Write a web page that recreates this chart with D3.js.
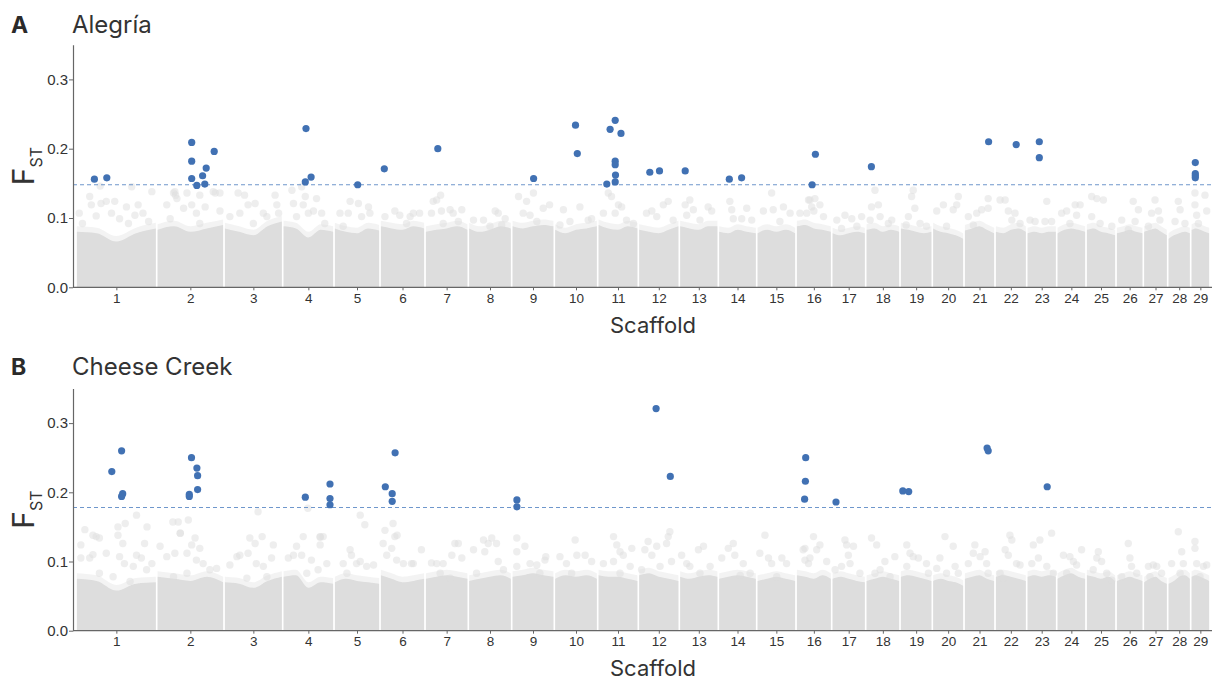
<!DOCTYPE html>
<html>
<head>
<meta charset="utf-8">
<script src="https://cdn.jsdelivr.net/npm/d3@7"></script>
<style>
  html, body { margin: 0; padding: 0; background: #fff; }
  svg { display: block; }
</style>
</head>
<body>
<svg id="chart" width="1215" height="682"></svg>
<script>
// ---- Scaffolds ---------------------------------------------------------
const scaffoldLabels = ["1","2","3","4","5","6","7","8","9","10","11","12","13","14","15",
  "16","17","18","19","20","21","22","23","24","25","26","27","28","29"];
const scaffoldLengthMb = [80.7, 67.3, 58.7, 51.3, 46.0, 45.0, 43.3, 43.4, 42.6, 43.4, 40.6, 41.0,
  39.0, 38.4, 39.3, 35.7, 34.0, 34.3, 32.3, 31.7, 31.0, 31.7, 30.0, 29.3, 30.0, 27.3, 24.4, 23.0, 19.3];
const yTickValues = [0.0, 0.1, 0.2, 0.3];

// ---- Significance thresholds (99.9th percentile FST) -------------------
const alegriaThreshold = 0.148;
const cheeseThreshold = 0.178;

// ---- Outlier SNPs: [scaffold, position (Mb), FST] -----------------------
const alegriaOutliers = [
  [1,18.4,0.156],[1,30.8,0.158],
  [2,35.0,0.209],[2,35.0,0.182],[2,35.0,0.157],[2,40.1,0.147],[2,45.9,0.161],[2,48.1,0.149],[2,49.5,0.172],[2,57.5,0.196],
  [4,23.3,0.229],[4,22.6,0.152],[4,28.4,0.159],
  [5,23.7,0.148],
  [6,4.3,0.171],
  [7,12.8,0.200],
  [9,21.9,0.157],
  [10,21.2,0.234],[10,23.0,0.193],
  [11,12.4,0.228],[11,17.5,0.241],[11,23.3,0.222],[11,17.5,0.182],[11,17.5,0.177],[11,17.8,0.162],[11,9.1,0.149],[11,17.5,0.152],
  [12,11.5,0.166],[12,21.2,0.168],
  [13,5.9,0.168],
  [14,11.0,0.156],[14,23.3,0.158],
  [16,16.1,0.148],[16,19.4,0.192],
  [18,5.7,0.174],
  [21,24.6,0.210],
  [22,21.2,0.206],
  [23,12.6,0.210],[23,12.6,0.187],
  [29,4.6,0.180],[29,4.6,0.164],[29,4.6,0.161],[29,4.6,0.158]
];
const cheeseOutliers = [
  [1,35.8,0.230],[1,45.6,0.260],[1,46.7,0.198],[1,45.6,0.194],
  [2,32.6,0.197],[2,32.6,0.194],[2,34.8,0.250],[2,40.2,0.235],[2,40.9,0.224],[2,40.9,0.204],
  [4,22.6,0.193],[4,47.3,0.212],[4,47.3,0.191],[4,47.3,0.182],
  [6,5.3,0.208],[6,12.2,0.198],[6,12.2,0.187],[6,15.1,0.257],
  [9,5.2,0.189],[9,5.2,0.179],
  [12,17.8,0.321],[12,32.0,0.223],
  [16,9.7,0.250],[16,9.4,0.216],[16,8.6,0.190],
  [17,4.3,0.186],
  [19,2.8,0.202],[19,8.7,0.201],
  [21,23.1,0.264],[21,24.2,0.260],
  [23,20.5,0.208]
];

// ---- Bulk of SNPs: upper edge of the dense cloud per scaffold ----------
// FST at 0, 1/4, 1/2, 3/4 and the end of each scaffold
const alegriaBulkTop = [
  [0.080,0.078,0.066,0.078,0.085],[0.083,0.088,0.080,0.085,0.090],[0.085,0.080,0.075,0.088,0.095],
  [0.088,0.085,0.072,0.083,0.080],[0.085,0.080,0.078,0.085,0.082],[0.088,0.085,0.083,0.088,0.085],
  [0.080,0.083,0.085,0.088,0.083],[0.085,0.080,0.083,0.088,0.085],[0.088,0.085,0.088,0.090,0.088],
  [0.083,0.078,0.083,0.085,0.088],[0.090,0.085,0.083,0.088,0.085],[0.083,0.080,0.078,0.083,0.088],
  [0.088,0.085,0.083,0.088,0.088],[0.080,0.078,0.083,0.080,0.078],[0.078,0.083,0.080,0.083,0.078],
  [0.088,0.090,0.085,0.083,0.080],[0.078,0.075,0.078,0.080,0.078],[0.083,0.085,0.080,0.083,0.080],
  [0.085,0.083,0.080,0.078,0.080],[0.085,0.080,0.078,0.075,0.070],[0.082,0.085,0.088,0.083,0.078],
  [0.080,0.078,0.083,0.085,0.080],[0.078,0.080,0.078,0.080,0.080],[0.078,0.083,0.085,0.083,0.080],
  [0.083,0.085,0.080,0.078,0.075],[0.078,0.080,0.083,0.080,0.078],[0.080,0.083,0.085,0.080,0.075],
  [0.070,0.075,0.078,0.080,0.078],[0.083,0.085,0.083,0.080,0.078]
];
const cheeseBulkTop = [
  [0.075,0.072,0.058,0.068,0.070],[0.078,0.075,0.072,0.078,0.070],[0.070,0.068,0.062,0.072,0.078],
  [0.078,0.080,0.062,0.070,0.068],[0.070,0.075,0.072,0.070,0.068],[0.080,0.075,0.070,0.072,0.075],
  [0.075,0.078,0.080,0.078,0.075],[0.072,0.075,0.078,0.080,0.075],[0.078,0.080,0.083,0.080,0.078],
  [0.075,0.080,0.078,0.080,0.075],[0.080,0.078,0.078,0.075,0.072],[0.080,0.083,0.078,0.075,0.072],
  [0.078,0.075,0.078,0.080,0.078],[0.075,0.078,0.080,0.078,0.075],[0.072,0.075,0.078,0.075,0.072],
  [0.080,0.078,0.075,0.080,0.075],[0.075,0.078,0.075,0.072,0.070],[0.072,0.075,0.078,0.075,0.072],
  [0.078,0.080,0.078,0.075,0.072],[0.072,0.075,0.072,0.070,0.065],[0.075,0.078,0.080,0.075,0.072],
  [0.078,0.080,0.078,0.075,0.072],[0.078,0.080,0.078,0.080,0.078],[0.075,0.080,0.083,0.078,0.075],
  [0.080,0.078,0.075,0.078,0.072],[0.072,0.075,0.078,0.075,0.072],[0.070,0.075,0.078,0.072,0.068],
  [0.068,0.072,0.078,0.080,0.075],[0.078,0.080,0.078,0.075,0.072]
];

// ---- Sparse SNPs above the dense cloud: [scaffold, fraction along scaffold, FST]
const alegriaSparse = [
  [1,.04,.107],[1,.17,.131],[1,.19,.119],[1,.25,.103],[1,.31,.121],[1,.375,.124],[1,.48,.124],[1,.44,.107],[1,.54,.099],
  [1,.625,.116],[1,.65,.092],[1,.73,.104],[1,.77,.119],[1,.83,.107],[1,.94,.138],[1,.9,.095],[1,.08,.092],[1,.3,.146],[1,.69,.145],
  [2,.15,.119],[2,.25,.136],[2,.30,.128],[2,.40,.114],[2,.45,.136],[2,.52,.119],[2,.59,.107],[2,.64,.133],[2,.72,.116],
  [2,.84,.138],[2,.94,.110],[2,.2,.099],[2,.64,.092],[2,.27,.138],[2,.28,.133],[2,.87,.136],[2,.94,.136],
  [3,.1,.102],[3,.24,.136],[3,.35,.133],[3,.27,.107],[3,.41,.119],[3,.53,.121],[3,.67,.107],[3,.73,.102],[3,.87,.133],
  [3,.9,.119],[3,.93,.107],[3,.5,.092],
  [4,.18,.140],[4,.21,.121],[4,.37,.145],[4,.4,.119],[4,.44,.131],[4,.5,.107],[4,.6,.110],[4,.66,.128],[4,.76,.107],
  [4,.82,.092],[4,.27,.102],
  [5,.13,.107],[5,.35,.124],[5,.53,.121],[5,.31,.107],[5,.6,.102],[5,.75,.116],[5,.78,.107],[5,.2,.088],
  [6,.11,.102],[6,.33,.110],[6,.44,.104],[6,.67,.102],[6,.74,.107],[6,.88,.107],[6,.59,.092],
  [7,.19,.124],[7,.27,.126],[7,.36,.133],[7,.15,.107],[7,.38,.110],[7,.58,.112],[7,.65,.107],[7,.85,.112],[7,.77,.095],[7,.42,.092],
  [8,.12,.097],[8,.35,.097],[8,.62,.110],[8,.69,.107],[8,.85,.099],[8,.5,.088],[8,.77,.090],
  [9,.16,.131],[9,.35,.124],[9,.51,.136],[9,.27,.107],[9,.43,.104],[9,.74,.114],[9,.89,.119],[9,.59,.095],
  [10,.21,.112],[10,.36,.095],[10,.59,.116],[10,.78,.097],[10,.86,.099],[10,.13,.090],
  [11,.26,.136],[11,.34,.131],[11,.51,.119],[11,.59,.116],[11,.43,.107],[11,.14,.107],[11,.88,.092],[11,.71,.097],
  [12,.2,.107],[12,.33,.110],[12,.61,.119],[12,.73,.124],[12,.45,.102],[12,.85,.097],
  [13,.15,.119],[13,.27,.126],[13,.36,.112],[13,.53,.097],[13,.74,.116],[13,.83,.110],[13,.19,.104],
  [14,.3,.124],[14,.35,.112],[14,.61,.099],[14,.74,.114],[14,.87,.097],[14,.39,.099],
  [15,.17,.110],[15,.38,.136],[15,.42,.112],[15,.68,.116],[15,.85,.107],[15,.59,.095],
  [16,.11,.107],[16,.35,.126],[16,.44,.116],[16,.39,.126],[16,.53,.128],[16,.67,.119],[16,.3,.107],[16,.77,.102],[16,.5,.110],
  [17,.15,.097],[17,.39,.104],[17,.59,.099],[17,.74,.088],[17,.88,.102],[17,.29,.085],
  [18,.17,.116],[18,.37,.119],[18,.27,.140],[18,.42,.102],[18,.66,.092],[18,.76,.097],[18,.13,.097],
  [19,.26,.102],[19,.36,.131],[19,.41,.140],[19,.46,.114],[19,.62,.092],[19,.82,.088],[19,.19,.090],
  [20,.14,.110],[20,.35,.119],[20,.66,.112],[20,.77,.119],[20,.82,.131],[20,.45,.088],
  [21,.14,.102],[21,.41,.107],[21,.57,.112],[21,.78,.128],[21,.78,.114],[21,.3,.090],
  [22,.16,.126],[22,.32,.126],[22,.42,.110],[22,.63,.107],[22,.79,.092],[22,.53,.097],
  [23,.11,.097],[23,.28,.095],[23,.67,.124],[23,.61,.095],[23,.83,.095],
  [24,.17,.107],[24,.34,.110],[24,.63,.119],[24,.8,.119],[24,.68,.104],[24,.45,.092],
  [25,.19,.131],[25,.36,.128],[25,.58,.126],[25,.19,.102],[25,.47,.092],[25,.86,.088],
  [26,.21,.097],[26,.63,.124],[26,.7,.095],[26,.82,.112],[26,.45,.083],
  [27,.21,.088],[27,.34,.107],[27,.48,.126],[27,.62,.110],[27,.68,.097],
  [28,.32,.095],[28,.46,.124],[28,.54,.112],[28,.75,.092],
  [29,.22,.136],[29,.22,.119],[29,.31,.104],[29,.74,.133],[29,.83,.110],[29,.4,.092]
];
const cheeseSparse = [
  [1,.06,.124],[1,.06,.105],[1,.17,.105],[1,.25,.136],[1,.29,.134],[1,.21,.110],[1,.29,.083],[1,.375,.112],[1,.46,.078],
  [1,.52,.138],[1,.58,.126],[1,.54,.107],[1,.6,.097],[1,.71,.093],[1,.75,.109],[1,.81,.105],[1,.85,.126],[1,.875,.088],
  [1,.94,.097],[1,.67,.071],[1,.11,.146],[1,.21,.138],[1,.52,.150],[1,.61,.155],[1,.75,.167],[1,.88,.150],
  [2,.05,.122],[2,.15,.107],[2,.27,.112],[2,.35,.141],[2,.45,.112],[2,.52,.124],[2,.57,.134],[2,.59,.102],[2,.64,.119],
  [2,.69,.097],[2,.79,.088],[2,.89,.090],[2,.45,.083],[2,.25,.078],[2,.24,.157],[2,.32,.157],[2,.47,.160],[2,.35,.141],
  [3,.1,.095],[3,.22,.107],[3,.27,.109],[3,.44,.134],[3,.53,.126],[3,.41,.112],[3,.55,.097],[3,.67,.093],[3,.81,.105],
  [3,.84,.124],[3,.73,.078],[3,.39,.076],[3,.58,.172],[3,.65,.136],
  [4,.11,.105],[4,.21,.109],[4,.27,.122],[4,.4,.136],[4,.37,.109],[4,.56,.102],[4,.73,.136],[4,.73,.124],[4,.79,.136],
  [4,.69,.088],[4,.86,.097],[4,.47,.083],[4,.49,.177],[4,.73,.135],
  [5,.2,.097],[5,.35,.117],[5,.38,.109],[5,.49,.097],[5,.57,.100],[5,.71,.093],[5,.86,.095],[5,.28,.083],[5,.57,.167],[5,.67,.153],
  [6,.07,.126],[6,.15,.109],[6,.26,.119],[6,.33,.136],[6,.37,.102],[6,.52,.097],[6,.74,.097],[6,.7,.097],[6,.92,.117],
  [6,.11,.145],[6,.29,.155],[6,.38,.138],
  [7,.15,.098],[7,.27,.097],[7,.42,.097],[7,.62,.109],[7,.69,.126],[7,.77,.126],[7,.85,.105],[7,.35,.083],[7,.58,.076],
  [8,.12,.117],[8,.35,.131],[8,.46,.126],[8,.54,.134],[8,.65,.126],[8,.38,.114],[8,.69,.100],[8,.19,.083],[8,.81,.088],
  [9,.12,.134],[9,.12,.114],[9,.31,.122],[9,.12,.093],[9,.43,.097],[9,.59,.095],[9,.78,.102],[9,.8,.107],[9,.66,.083],
  [10,.13,.107],[10,.28,.097],[10,.48,.131],[10,.52,.109],[10,.71,.109],[10,.86,.100],[10,.4,.083],
  [11,.14,.097],[11,.39,.136],[11,.47,.124],[11,.55,.114],[11,.63,.109],[11,.84,.119],[11,.8,.093],[11,.39,.100],[11,.55,.083],
  [12,.16,.117],[12,.24,.129],[12,.33,.109],[12,.45,.122],[12,.69,.126],[12,.73,.136],[12,.77,.143],[12,.81,.100],
  [12,.53,.093],[12,.08,.088],
  [13,.06,.109],[13,.19,.097],[13,.27,.093],[13,.49,.117],[13,.62,.122],[13,.79,.093],[13,.53,.083],
  [14,.09,.105],[14,.26,.119],[14,.39,.126],[14,.43,.109],[14,.65,.097],[14,.83,.083],[14,.57,.080],
  [15,.08,.112],[15,.21,.138],[15,.3,.105],[15,.38,.097],[15,.64,.105],[15,.76,.097],[15,.51,.078],
  [16,.25,.119],[16,.35,.097],[16,.39,.105],[16,.2,.117],[16,.49,.136],[16,.58,.117],[16,.67,.124],[16,.86,.100],[16,.25,.102],
  [17,.1,.088],[17,.39,.131],[17,.44,.124],[17,.49,.109],[17,.64,.122],[17,.29,.093],[17,.83,.083],[17,.54,.097],
  [18,.17,.134],[18,.32,.124],[18,.42,.088],[18,.56,.100],[18,.85,.107],[18,.27,.083],[18,.71,.078],
  [19,.21,.124],[19,.31,.112],[19,.21,.093],[19,.41,.107],[19,.57,.105],[19,.82,.097],[19,.88,.083],
  [20,.14,.090],[20,.24,.105],[20,.4,.136],[20,.66,.122],[20,.72,.093],[20,.82,.083],[20,.45,.083],
  [21,.14,.097],[21,.3,.112],[21,.35,.124],[21,.52,.107],[21,.68,.114],[21,.73,.097],[21,.78,.083],
  [22,.16,.083],[22,.32,.117],[22,.42,.109],[22,.47,.138],[22,.53,.131],[22,.68,.097],[22,.79,.095],[22,.26,.076],
  [23,.17,.097],[23,.22,.124],[23,.39,.105],[23,.44,.131],[23,.67,.093],[23,.83,.141],[23,.89,.083],
  [24,.23,.109],[24,.45,.107],[24,.57,.100],[24,.68,.095],[24,.85,.117],[24,.34,.083],
  [25,.24,.088],[25,.36,.105],[25,.41,.114],[25,.52,.100],[25,.69,.083],[25,.86,.073],
  [26,.21,.078],[26,.45,.126],[26,.51,.105],[26,.57,.093],[26,.76,.083],
  [27,.21,.093],[27,.41,.095],[27,.55,.093],[27,.75,.083],[27,.27,.078],
  [28,.17,.097],[28,.46,.143],[28,.61,.114],[28,.68,.097],[28,.54,.083],
  [29,.22,.129],[29,.22,.119],[29,.31,.097],[29,.66,.093],[29,.83,.095],[29,.48,.078]
];

// ---- Layout --------------------------------------------------------------
const svg = d3.select("#chart");
const axisX0 = 73, axisX1 = 1212;
const x = d3.scaleLinear()
  .domain([0, d3.sum(scaffoldLengthMb)])
  .range([76, 1210]);
const scaffoldStart = [];
scaffoldLengthMb.reduce((acc, len, i) => { scaffoldStart[i] = acc; return acc + len; }, 0);
const midpoints = scaffoldLengthMb.map((len, i) => scaffoldStart[i] + len / 2);

const panels = [
  { key: "a", letter: "A", title: "Alegría", top: 44.75, bottom: 287.3, threshold: alegriaThreshold,
    outliers: alegriaOutliers, bulk: alegriaBulkTop, sparse: alegriaSparse,
    headBaseline: 33, xTitleBaseline: 333 },
  { key: "b", letter: "B", title: "Cheese Creek", top: 388.5, bottom: 630.7, threshold: cheeseThreshold,
    outliers: cheeseOutliers, bulk: cheeseBulkTop, sparse: cheeseSparse,
    headBaseline: 375, xTitleBaseline: 676 }
];

const grey = "#dddddd";
const blue = "#4171b3";
const textColor = "#333333";
const tickFont = "'Liberation Sans', Arial, sans-serif";
const titleFont = "Inter, 'Noto Sans', sans-serif";

// soft edge for the dense SNP cloud
const defs = svg.append("defs");
defs.append("filter").attr("id", "soft")
  .attr("x", "-2%").attr("y", "-5%").attr("width", "104%").attr("height", "110%")
  .append("feGaussianBlur").attr("stdDeviation", 0.7);

panels.forEach(p => {
  const y = d3.scaleLinear().domain([0, 0.35]).range([p.bottom, p.top]);
  const g = svg.append("g");

  // dense cloud of SNPs, one block per scaffold
  const bulkArea = d3.area()
    .x(d => d[0])
    .y0(y(0))
    .y1(d => y(d[1]))
    .curve(d3.curveMonotoneX);
  const haloArea = d3.area()
    .x(d => d[0])
    .y0(y(0))
    .y1(d => y(d[1] + 0.008))
    .curve(d3.curveMonotoneX);
  const fracs = [0, 0.25, 0.5, 0.75, 1];
  const bulkG = g.append("g").attr("filter", "url(#soft)");
  p.bulk.forEach((tops, i) => {
    const x0 = x(scaffoldStart[i]) + 0.9;
    const x1 = x(scaffoldStart[i] + scaffoldLengthMb[i]) - 0.9;
    const pts = tops.map((t, k) => [x0 + fracs[k] * (x1 - x0), t]);
    bulkG.append("path").attr("d", haloArea(pts)).attr("fill", grey).attr("opacity", 0.35);
    bulkG.append("path").attr("d", bulkArea(pts)).attr("fill", grey);
  });

  // sparse SNPs above the cloud
  g.append("g").selectAll("circle")
    .data(p.sparse)
    .join("circle")
    .attr("cx", d => x(scaffoldStart[d[0] - 1] + d[1] * scaffoldLengthMb[d[0] - 1]))
    .attr("cy", d => y(d[2]))
    .attr("r", 3.7)
    .attr("fill", grey)
    .attr("fill-opacity", 0.5);

  // threshold
  g.append("line")
    .attr("x1", axisX0).attr("x2", axisX1)
    .attr("y1", y(p.threshold)).attr("y2", y(p.threshold))
    .attr("stroke", "#6f97cc").attr("stroke-width", 1.1)
    .attr("stroke-dasharray", "4,3");

  // outlier SNPs
  g.append("g").selectAll("circle")
    .data(p.outliers)
    .join("circle")
    .attr("cx", d => x(scaffoldStart[d[0] - 1] + d[1]))
    .attr("cy", d => y(d[2]))
    .attr("r", 3.6)
    .attr("fill", blue);

  // y axis
  const yAxis = d3.axisLeft(y)
    .tickValues(yTickValues)
    .tickFormat(d3.format(".1f"))
    .tickSize(4)
    .tickSizeOuter(0)
    .tickPadding(1);
  const ya = g.append("g").attr("transform", `translate(${axisX0},0)`).call(yAxis);
  ya.select(".domain").attr("stroke", "#666").attr("stroke-width", 1.2);
  ya.selectAll(".tick line").attr("stroke", "#666");
  ya.selectAll(".tick text").attr("fill", textColor)
    .style("font-family", tickFont).style("font-size", "15px");

  // x axis (scaffold mid-points)
  const xAxis = d3.axisBottom(x)
    .tickValues(midpoints)
    .tickFormat((d, i) => scaffoldLabels[i])
    .tickSize(3)
    .tickSizeOuter(0)
    .tickPadding(3);
  const xa = g.append("g").attr("transform", `translate(0,${p.bottom})`).call(xAxis);
  xa.select(".domain").remove();
  xa.selectAll(".tick line").attr("stroke", "#666");
  xa.selectAll(".tick text").attr("fill", textColor)
    .style("font-family", tickFont).style("font-size", "13.5px");
  g.append("line")
    .attr("x1", axisX0).attr("x2", axisX1)
    .attr("y1", p.bottom).attr("y2", p.bottom)
    .attr("stroke", "#666").attr("stroke-width", 1.2);

  // axis titles
  g.append("text")
    .attr("x", 653).attr("y", p.xTitleBaseline)
    .attr("text-anchor", "middle")
    .attr("fill", textColor)
    .style("font-family", titleFont).style("font-size", "22px")
    .text("Scaffold");

  const yMid = (p.top + p.bottom) / 2;
  const yt = g.append("text")
    .attr("transform", `translate(34,${yMid}) rotate(-90)`)
    .attr("text-anchor", "middle")
    .attr("fill", textColor)
    .style("font-family", titleFont);
  yt.append("tspan").style("font-size", "30px").text("F");
  yt.append("tspan").attr("dy", 8).style("font-size", "16px").text("ST");

  // panel heading
  g.append("text")
    .attr("x", 11).attr("y", p.headBaseline)
    .attr("fill", "#2a2a2a")
    .style("font-family", titleFont).style("font-size", "23px").style("font-weight", 700)
    .text(p.letter);
  g.append("text")
    .attr("x", 72).attr("y", p.headBaseline)
    .attr("fill", textColor)
    .style("font-family", titleFont).style("font-size", "24px")
    .text(p.title);
});
</script>
</body>
</html>
